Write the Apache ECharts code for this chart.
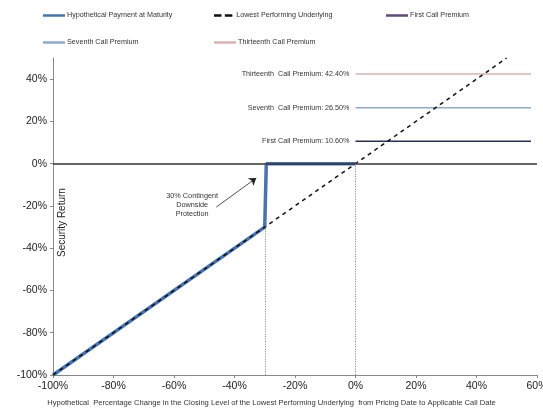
<!DOCTYPE html>
<html><head><meta charset="utf-8">
<script src="https://cdn.jsdelivr.net/npm/echarts@6/dist/echarts.min.js"></script>
<style>html,body{margin:0;padding:0;background:#fff}#c{width:543px;height:411px}</style>
</head><body><div id="c"></div>
<script>
// Data
const paymentX = [-100, -30, -29.5, 0];
const paymentY = [-100, -30, 0, 0];
const underlyingX = [-100, 50];
const underlyingY = [-100, 50];
const premiumNames = ['First Call Premium', 'Seventh Call Premium', 'Thirteenth Call Premium'];
const premiumLabels = ['First Call Premium: 10.60%', 'Seventh  Call Premium: 26.50%', 'Thirteenth  Call Premium: 42.40%'];
const premiumValues = [10.6, 26.5, 42.4];
const premiumRange = [0, 58];
const barrier = -30;
const annotationText = '30% Contingent\nDownside\nProtection';
const xTitle = 'Hypothetical  Percentage Change in the Closing Level of the Lowest Performing Underlying  from Pricing Date to Applicable Call Date';
const yTitle = 'Security Return';

const font = 'Liberation Sans, Arial, sans-serif';
const premiumColors = ['#27304f', '#8eaad0', '#dbb0b0'];
const premiumLegendColors = ['#5d4a7e', '#8eaad0', '#dbb0b0'];

const series = [];
series.push({
  name: 'Hypothetical Payment at Maturity', type: 'line', symbol: 'none', z: 3,
  data: paymentX.map((x, i) => [x, paymentY[i]]),
  lineStyle: { color: '#4473b5', width: 3.5 }, itemStyle: { color: '#4473b5' },
  markLine: {
    silent: true, symbol: 'none', label: { show: false },
    data: [
      [{ coord: [-100, 0], lineStyle: { color: '#333', width: 1.5, type: 'solid' } }, { coord: [60, 0] }],
      [{ coord: [barrier, 0], lineStyle: { color: '#777', width: 1, type: [1, 1.5] } }, { coord: [barrier, -100] }],
      [{ coord: [0, 0], lineStyle: { color: '#777', width: 1, type: [1, 1.5] } }, { coord: [0, -100] }],
      [{ coord: [-46, -20.5], symbol: 'none', lineStyle: { color: '#222', width: 0.8, type: 'solid' } }, { coord: [-32.8, -6.8], symbol: 'arrow', symbolSize: 7 }]
    ]
  },
  markPoint: {
    silent: true, symbol: 'circle', symbolSize: 0,
    data: [{ coord: [-54, -19.5], label: { show: true, formatter: annotationText, color: '#333', fontSize: 7.3, fontFamily: font, lineHeight: 9, align: 'center', verticalAlign: 'middle', position: 'inside' } }]
  }
});
series.push({
  name: 'Lowest Performing Underlying', type: 'line', symbol: 'none', z: 4,
  data: underlyingX.map((x, i) => [x, underlyingY[i]]),
  lineStyle: { color: '#111', width: 1.5, type: [4, 4] }, itemStyle: { color: '#111' }
});
premiumNames.forEach((n, i) => {
  series.push({
    name: n, type: 'line', symbol: 'circle', symbolSize: 0, showSymbol: true, z: 2,
    data: [
      { value: [premiumRange[0], premiumValues[i]], label: { show: true, position: 'left', distance: 6, formatter: premiumLabels[i], color: '#333', fontSize: 7.2, fontFamily: font } },
      [premiumRange[1], premiumValues[i]]
    ],
    lineStyle: { color: premiumColors[i], width: 1.5 }, itemStyle: { color: premiumLegendColors[i] }
  });
});

function legendFor(name, left, top, color, dashed) {
  return {
    left: left, top: top, data: [{ name: name, icon: dashed ? 'path://M0,0H9V3H0ZM13,0H22V3H13Z' : 'rect', itemStyle: { color: color } }],
    itemWidth: 22, itemHeight: 2.5, itemGap: 0, padding: 0,
    textStyle: { fontSize: 7.2, color: '#333', fontFamily: font, padding: [0, 0, 0, -3] },
    selectedMode: false
  };
}

const chart = echarts.init(document.getElementById('c'), null, { renderer: 'canvas' });
chart.setOption({
  animation: false,
  backgroundColor: '#fff',
  legend: [
    legendFor('Hypothetical Payment at Maturity', 43, 12, '#4473b5'),
    legendFor('Lowest Performing Underlying', 214, 12, '#111', true),
    legendFor('First Call Premium', 386, 12, '#5d4a7e'),
    legendFor('Seventh Call Premium', 43, 39, '#8eaad0'),
    legendFor('Thirteenth Call Premium', 214, 39, '#dbb0b0')
  ],
  grid: { left: 53, right: 6, top: 58, bottom: 36, containLabel: false, outerBoundsMode: 'none' },
  xAxis: {
    type: 'value', min: -100, max: 60, interval: 20,
    axisLine: { onZero: false, lineStyle: { color: '#888', width: 1 } },
    axisTick: { show: true, length: 3, lineStyle: { color: '#888' } },
    axisLabel: { formatter: v => v + '%', fontSize: 10.5, color: '#222', fontFamily: font, margin: 6 },
    splitLine: { show: false }
  },
  yAxis: {
    type: 'value', min: -100, max: 50, interval: 20,
    axisLine: { onZero: false, lineStyle: { color: '#888', width: 1 } },
    axisTick: { show: true, length: 3, lineStyle: { color: '#888' } },
    axisLabel: { formatter: v => v + '%', fontSize: 10.5, color: '#222', fontFamily: font, margin: 6, showMaxLabel: false },
    splitLine: { show: false }
  },
  graphic: [
    { type: 'text', left: 'center', x: 0, top: 399, style: { text: xTitle, fontSize: 7.6, fill: '#333', fontFamily: font } },
    { type: 'text', x: 57, y: 257, rotation: Math.PI / 2, originX: 0, originY: 0, style: { text: yTitle, fontSize: 10, fill: '#222', fontFamily: font } }
  ],
  series: series
});
</script></body></html>
